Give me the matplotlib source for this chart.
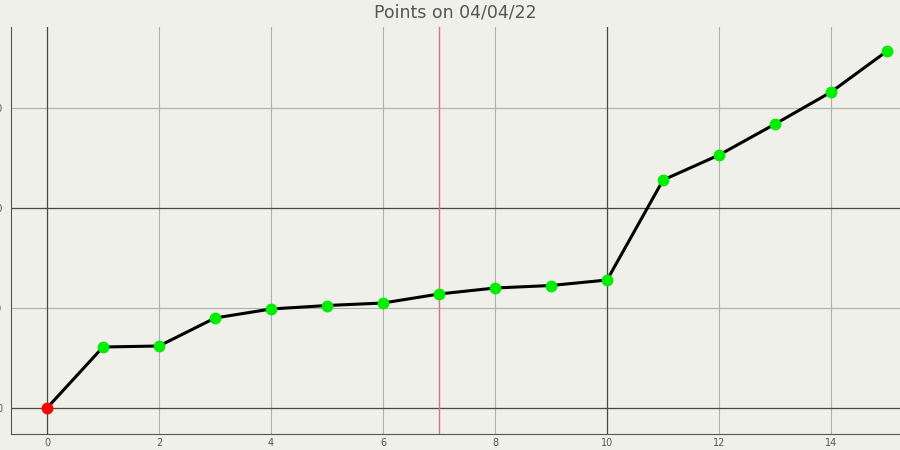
import numpy as np
import matplotlib.pyplot as plt

# points per day
days = [0, 1, 2, 3, 4, 5, 6, 7, 8, 9, 10, 11, 12, 13, 14, 15]
points = [0, 6.1, 6.2, 9.0, 9.9, 10.25, 10.5, 11.4, 12.0, 12.25, 12.8, 22.8, 25.3, 28.4, 31.6, 35.7]
x_ticks = [0, 2, 4, 6, 8, 10, 12, 14]
y_ticks = [0, 10, 20, 30]
dark_x = [0, 10]
dark_y = [0, 20]
marker_x = 7
title = "Points on 04/04/22"

bg = "#f0f0eb"
fig = plt.figure(figsize=(9, 4.5), dpi=100, facecolor=bg)
ax = fig.add_axes([11 / 900, 1 - 434 / 450, 1 - 11 / 900, (434 - 27) / 450])
ax.set_facecolor(bg)
ax.set_axisbelow(True)

ax.set_xlim(-0.643, 15.23)
ax.set_ylim(-2.6, 38.1)
ax.set_xticks(x_ticks)
ax.set_yticks(y_ticks)
ax.grid(True, color="#b0b0b0", lw=0.8)
for v in dark_x:
    ax.axvline(v, color="#4a4a4a", lw=0.9, zorder=2)
for v in dark_y:
    ax.axhline(v, color="#4a4a4a", lw=0.9, zorder=2)
ax.axvline(marker_x, color="#e07080", lw=1, zorder=2)

ax.plot(days, points, color="black", lw=2.2, zorder=3)
ax.plot(days[1:], points[1:], "o", color="#00ee00", ms=7.5, zorder=4)
ax.plot(days[:1], points[:1], "o", color="#ff0000", ms=7.5, zorder=4)

for s in ["top", "right"]:
    ax.spines[s].set_visible(False)
for s in ["left", "bottom"]:
    ax.spines[s].set_color("#555555")
ax.tick_params(length=0, labelsize=7, colors="#555555")
ax.tick_params(axis="x", pad=3)
ax.tick_params(axis="y", pad=6)

ax.set_title(title, fontsize=12.5, color="#555555", pad=7)

fig.savefig("out.png", facecolor=bg)
